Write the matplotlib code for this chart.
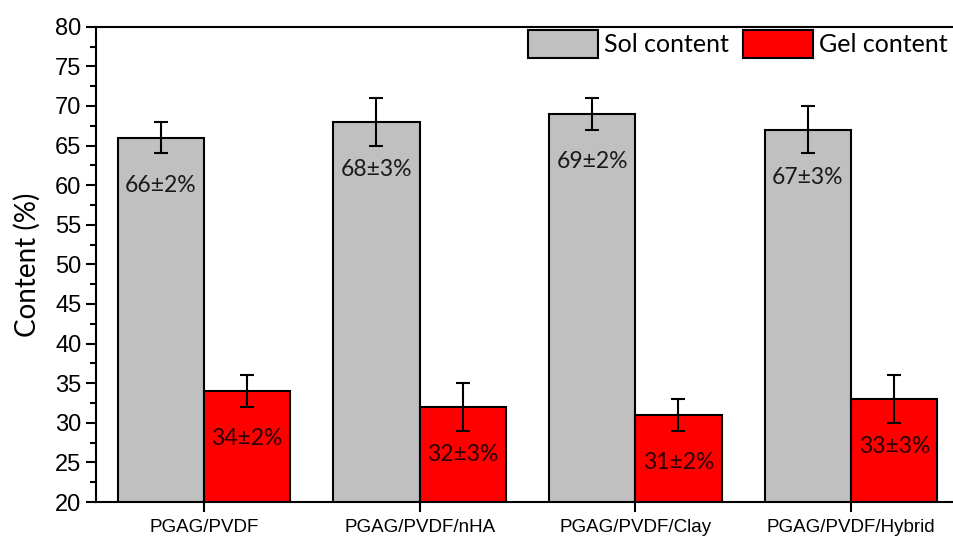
import numpy as np
import matplotlib.pyplot as plt
from matplotlib.ticker import MultipleLocator

# Données
echantillons = ['PGAG/PVDF', 'PGAG/PVDF/nHA', 'PGAG/PVDF/Clay', 'PGAG/PVDF/Hybrid']
sol = [66, 68, 69, 67]
sol_err = [2, 3, 2, 3]
gel = [34, 32, 31, 33]
gel_err = [2, 3, 2, 3]

plt.rcParams['font.family'] = ['Liberation Sans', 'DejaVu Sans']

fig = plt.figure(figsize=(9.54, 5.44), dpi=100)
ax = fig.add_axes([0.1006, 0.0772, 0.9046, 0.8737])

x = np.arange(len(echantillons))
w = 0.4
err_kw = dict(ecolor='black', elinewidth=1.5, capsize=5, capthick=1.5)

ax.bar(x - w/2, sol, w, yerr=sol_err, color='#C0C0C0', edgecolor='black',
       linewidth=1.5, error_kw=err_kw, label='Sol content')
ax.bar(x + w/2, gel, w, yerr=gel_err, color='#FF0000', edgecolor='black',
       linewidth=1.5, error_kw=err_kw, label='Gel content')

# Étiquettes dans les barres
for i in range(len(x)):
    ax.text(x[i] - w/2, sol[i] - 6, f'{sol[i]}±{sol_err[i]}%', ha='center', va='center',
            fontsize=16.5, family='Lato', color='#1a1a1a')
    ax.text(x[i] + w/2, gel[i] - 6, f'{gel[i]}±{gel_err[i]}%', ha='center', va='center',
            fontsize=16.5, family='Lato', color='#2a0000')

ax.set_xlim(-0.5, 3.5)
ax.set_ylim(20, 80)
ax.set_xticks(x)
ax.set_xticklabels(echantillons)
ax.yaxis.set_major_locator(MultipleLocator(5))
ax.yaxis.set_minor_locator(MultipleLocator(2.5))
ax.tick_params(axis='y', which='major', labelsize=17)
ax.tick_params(axis='x', which='major', labelsize=13.5, pad=5)
ax.tick_params(axis='both', which='major', direction='out', length=7, width=1.5)
ax.tick_params(axis='y', which='minor', direction='out', length=4, width=1.5)
for s in ax.spines.values():
    s.set_linewidth(1.5)

ax.set_ylabel('Content (%)', fontsize=20, family='Lato', labelpad=10)

ax.legend(loc='upper right', bbox_to_anchor=(948/954, 1 - 30/544), bbox_transform=fig.transFigure,
          ncol=2, frameon=False, prop={'family': 'Lato', 'size': 18},
          handlelength=2.8, handleheight=1.35, handletextpad=0.25, columnspacing=0.55,
          borderpad=0, borderaxespad=0)

plt.savefig('out.png', dpi=100)
